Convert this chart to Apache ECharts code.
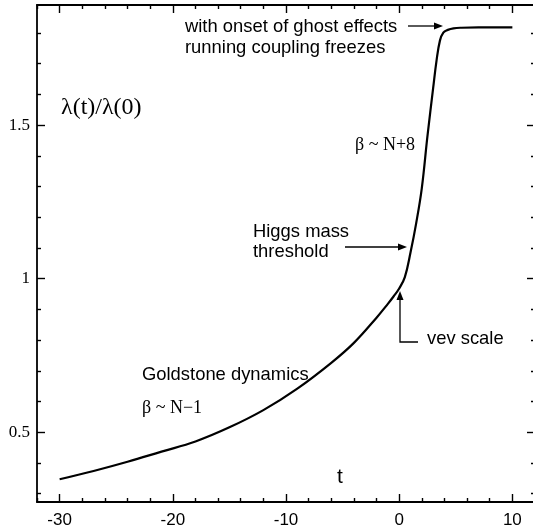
<!DOCTYPE html>
<html>
<head>
<meta charset="utf-8">
<script src="https://cdn.jsdelivr.net/npm/echarts@6/dist/echarts.min.js"></script>
<style>
html,body{margin:0;padding:0;background:#fff;}
#c{width:533px;height:531px;}
</style>
</head>
<body>
<div id="c"></div>
<script>
// ---- data ----
const tValues = [-30, -27, -24, -21, -18, -15, -12, -9, -6, -4, -2, -1, -0.5, 0, 0.5, 1, 1.5, 2, 2.5, 3, 3.3, 3.6, 3.9, 4.3, 4.8, 5.5, 7, 10];
const lambdaRatio = [0.347, 0.374, 0.404, 0.437, 0.470, 0.516, 0.572, 0.642, 0.726, 0.791, 0.873, 0.918, 0.942, 0.968, 1.005, 1.085, 1.180, 1.295, 1.465, 1.620, 1.710, 1.775, 1.801, 1.810, 1.815, 1.817, 1.818, 1.818];

const xMajorTicks = [-30, -20, -10, 0, 10];
const xTickLabels = ['-30', '-20', '-10', '0', '10'];
const xMinorTicks = [-32, -28, -26, -24, -22, -18, -16, -14, -12, -8, -6, -4, -2, 2, 4, 6, 8, 12];
const yMajorTicks = [0.5, 1, 1.5];
const yTickLabels = ['0.5', '1', '1.5'];
const yMinorTicks = [0.3, 0.4, 0.6, 0.7, 0.8, 0.9, 1.1, 1.2, 1.3, 1.4, 1.6, 1.7, 1.8];
const xRange = [-32, 12];
const yRange = [0.273, 1.891];

// ---- chart ----
const chart = echarts.init(document.getElementById('c'), null, {renderer: 'canvas'});
const SANS = "'Liberation Sans', Arial, Helvetica, sans-serif";
const SERIF = "'Liberation Serif', 'Times New Roman', serif";

function axis(kind, pos, ticks, len, labels, lineShow) {
  const a = {
    type: 'value', position: pos,
    min: kind === 'x' ? xRange[0] : yRange[0],
    max: kind === 'x' ? xRange[1] : yRange[1],
    axisLine: {show: lineShow, onZero: false, lineStyle: {color: '#000', width: 1.8}},
    axisTick: {show: true, inside: true, length: len, customValues: ticks, lineStyle: {color: '#000', width: 1.4}},
    splitLine: {show: false},
    axisLabel: {show: false}
  };
  if (labels) {
    a.axisLabel = {
      show: true, customValues: ticks, color: '#000',
      fontSize: 17,
      fontFamily: kind === 'x' ? SANS : SERIF,
      margin: kind === 'x' ? 10 : 7,
      formatter: function (v) {
        const arr = kind === 'x' ? xMajorTicks : yMajorTicks;
        const lab = kind === 'x' ? xTickLabels : yTickLabels;
        for (let i = 0; i < arr.length; i++) if (Math.abs(arr[i] - v) < 1e-6) return lab[i];
        return '';
      }
    };
  }
  return a;
}

const option = {
  animation: false,
  backgroundColor: '#fff',
  grid: {left: 37, top: 5, width: 498, height: 497, containLabel: false, outerBoundsMode: 'none'},
  xAxis: [
    axis('x', 'bottom', xMajorTicks, 8, true, true),
    axis('x', 'bottom', xMinorTicks, 4, false, false),
    axis('x', 'top', xMajorTicks, 8, false, true),
    axis('x', 'top', xMinorTicks, 4, false, false)
  ],
  yAxis: [
    axis('y', 'left', yMajorTicks, 8, true, true),
    axis('y', 'left', yMinorTicks, 4, false, false),
    axis('y', 'right', yMajorTicks, 8, false, true),
    axis('y', 'right', yMinorTicks, 4, false, false)
  ],
  series: [{
    type: 'line',
    xAxisIndex: 0, yAxisIndex: 0,
    data: tValues.map((t, i) => [t, lambdaRatio[i]]),
    showSymbol: false,
    smooth: 0.4,
    lineStyle: {color: '#000', width: 2.2},
    silent: true
  }]
};
chart.setOption(option);

// ---- annotations ----
function txt(x, y, s, font, size, align) {
  return {type: 'text', x: x, y: y, silent: true, z: 10,
    style: {text: s, fill: '#000', font: size + 'px ' + font, textAlign: align || 'left', textVerticalAlign: 'middle'}};
}
function arrowHead(x, y, dir) {
  const L = 9, W = 3.5;
  const pts = dir === 'right'
    ? [[x, y], [x - L, y - W], [x - L, y + W]]
    : [[x, y], [x - W, y + L], [x + W, y + L]];
  return {type: 'polygon', silent: true, z: 10, shape: {points: pts}, style: {fill: '#000'}};
}
function seg(points) {
  return {type: 'polyline', silent: true, z: 10, shape: {points: points}, style: {stroke: '#000', lineWidth: 1.3, fill: null}};
}

chart.setOption({
  graphic: [
    txt(61, 108, 'λ(t)/λ(0)', SERIF, 24),
    txt(185, 27, 'with onset of ghost effects', SANS, 18.4),
    txt(185, 48, 'running coupling freezes', SANS, 18.4),
    seg([[408, 26], [436, 26]]), arrowHead(443, 26, 'right'),
    txt(355, 145, 'β ~ N+8', SERIF, 18),
    txt(253, 232, 'Higgs mass', SANS, 18.4),
    txt(253, 252, 'threshold', SANS, 18.4),
    seg([[345, 247], [400, 247]]), arrowHead(407, 247, 'right'),
    seg([[418, 342], [400, 342], [400, 298]]), arrowHead(400, 291, 'up'),
    txt(427, 339, 'vev scale', SANS, 18.4),
    txt(142, 375, 'Goldstone dynamics', SANS, 18.4),
    txt(142, 408, 'β ~ N−1', SERIF, 18),
    txt(340, 477, 't', SANS, 21, 'center')
  ]
});
</script>
</body>
</html>
